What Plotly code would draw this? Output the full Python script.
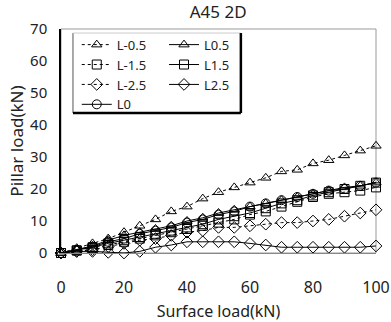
import plotly.graph_objects as go

surface = [0, 5, 10, 15, 20, 25, 30, 35, 40, 45, 50, 55, 60, 65, 70, 75, 80, 85, 90, 95, 100]

L_m05 = [0, 1.5, 3, 4.5, 6.5, 8.5, 10.5, 13, 14.5, 17, 19, 20.5, 22, 23.5, 25.5, 26, 28, 29, 30.5, 32, 33.5]
L_m15 = [0, 0.8, 1.5, 2.5, 3.5, 4.5, 5.5, 6.5, 7.5, 8.5, 9.5, 10.5, 12, 13, 14.5, 16, 17.5, 18.5, 19, 19.5, 20.5]
L_m25 = [0, 0.5, 1, 2, 3, 4, 4.5, 5.5, 6.5, 7, 8, 8, 8.5, 9, 9.5, 9.5, 10, 10.5, 11.5, 12.5, 13.5]
L_0 = [0, 1, 2, 3.5, 4.5, 6, 7, 8, 9.5, 10.5, 12, 13, 14.5, 15.5, 16.5, 17.5, 18.5, 19.5, 20, 21, 22]
L_05 = [0, 1, 2.2, 4, 5.5, 6.5, 7.5, 8.5, 10, 11, 12.5, 13.5, 14.5, 15.5, 16.5, 17.5, 18.5, 19.5, 20.5, 21, 22]
L_15 = [0, 0.8, 1.8, 3, 4, 5, 6, 7, 8, 9, 10.5, 11.5, 12.5, 14, 15.5, 16.5, 18, 19, 20, 21, 22]
L_25 = [0, 0.5, 0.5, 0.2, 0, 0.5, 1.8, 2.5, 3.5, 3.5, 3.5, 3.5, 3, 2.5, 1.8, 1.8, 1.8, 1.8, 1.8, 1.8, 2.2]

series = [
    ("L-0.5", L_m05, "triangle-up-open", "dot", "legend"),
    ("L-1.5", L_m15, "square-open", "dot", "legend"),
    ("L-2.5", L_m25, "diamond-open", "dot", "legend"),
    ("L0", L_0, "circle-open", "solid", "legend"),
    ("L0.5", L_05, "triangle-up-open", "solid", "legend2"),
    ("L1.5", L_15, "square-open", "solid", "legend2"),
    ("L2.5", L_25, "diamond-open", "solid", "legend2"),
]

FONT = "Noto Sans"
fig = go.Figure()
for name, ys, sym, dash, lg in series:
    fig.add_trace(go.Scatter(
        x=surface, y=ys, name=name, mode="lines+markers",
        line=dict(color="black", width=1, dash=dash),
        marker=dict(symbol=sym, size=9, color="black", line=dict(width=1, color="black")),
        cliponaxis=False, legend=lg,
    ))

# plot frame and legend box
fig.add_shape(type="rect", xref="paper", yref="paper", x0=0, x1=1, y0=0, y1=1,
              line=dict(color="#999999", width=1), layer="below")
lx0, lx1, ly0, ly1 = 0.038, 0.571, 0.625, 0.982
fig.add_shape(type="line", xref="paper", yref="paper", x0=lx0, x1=lx0, y0=ly0, y1=ly1,
              line=dict(color="#555555", width=1))
fig.add_shape(type="line", xref="paper", yref="paper", x0=lx0, x1=lx1, y0=ly1, y1=ly1,
              line=dict(color="#cccccc", width=1))
fig.add_shape(type="line", xref="paper", yref="paper", x0=lx1, x1=lx1, y0=ly0, y1=ly1,
              line=dict(color="black", width=2.5))
fig.add_shape(type="line", xref="paper", yref="paper", x0=lx0, x1=lx1, y0=ly0, y1=ly0,
              line=dict(color="black", width=2.5))

legend_common = dict(font=dict(family=FONT, size=13, color="#222"), bgcolor="rgba(0,0,0,0)",
                     yanchor="top", xanchor="left", tracegroupgap=0, itemwidth=30)
fig.update_layout(
    width=391, height=322,
    margin=dict(l=61, r=15, t=29, b=69),
    paper_bgcolor="white", plot_bgcolor="white",
    font=dict(family=FONT, size=14, color="#222"),
    title=dict(text="A45 2D", x=0.558, xanchor="center", y=0.962, yanchor="middle",
               font=dict(family=FONT, size=17, color="#222")),
    legend=dict(x=0.05, y=0.997, **legend_common),
    legend2=dict(x=0.327, y=0.997, **legend_common),
    xaxis=dict(range=[0, 100], tickvals=[0, 20, 40, 60, 80, 100], showgrid=False, zeroline=False,
               showline=True, linecolor="#888", linewidth=1, ticks="", ticklabelstandoff=20,
               automargin=False,
               title=dict(text="Surface load(kN)", font=dict(size=16), standoff=8),
               tickfont=dict(size=16)),
    yaxis=dict(range=[0, 70], tickvals=[0, 10, 20, 30, 40, 50, 60, 70], showgrid=False, zeroline=False,
               showline=True, linecolor="black", linewidth=1.5, ticks="", ticklabelstandoff=9,
               automargin=False,
               title=dict(text="Pillar load(kN)", font=dict(size=17), standoff=2),
               tickfont=dict(size=15)),
)
fig.write_html("out.html")
